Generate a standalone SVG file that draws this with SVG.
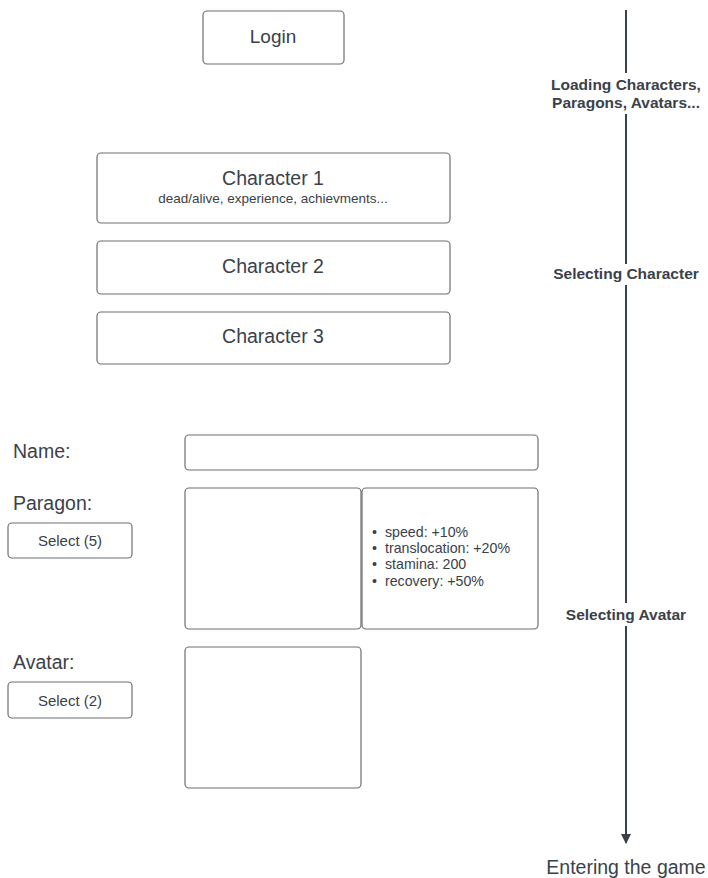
<svg xmlns="http://www.w3.org/2000/svg" width="708" height="878" viewBox="0 0 708 878">
<style>
.box{fill:#fff;stroke:#6b6e73;stroke-width:1.2}
.t{font-family:"Liberation Sans",Arial,sans-serif;fill:#3a414a}
.lb{font-family:"Liberation Sans",Arial,sans-serif;fill:#3a414a;font-weight:bold;font-size:15.5px;text-anchor:middle}
</style>
<defs>
<marker id="ah" markerWidth="10" markerHeight="14" refX="9" refY="5" orient="auto" markerUnits="userSpaceOnUse">
<path d="M0,0 L10,5 L0,10 z" fill="#3a414a"/>
</marker>
</defs>
<rect width="708" height="878" fill="#fff"/>
<g id="connectors">
<line x1="626" y1="10" x2="626" y2="73" stroke="#3a414a" stroke-width="2"/>
<line x1="626" y1="114" x2="626" y2="264" stroke="#3a414a" stroke-width="2"/>
<line x1="626" y1="285" x2="626" y2="603" stroke="#3a414a" stroke-width="2"/>
<line x1="626" y1="626" x2="626" y2="843" stroke="#3a414a" stroke-width="2" marker-end="url(#ah)"/>
</g>
<g id="login"><rect class="box" x="203" y="11" width="141" height="53" rx="4"/><text class="t" x="273" y="43" font-size="19" text-anchor="middle">Login</text></g>
<g id="character1"><rect class="box" x="97" y="153" width="353" height="70" rx="4"/><text class="t" x="273" y="185" font-size="19.5" text-anchor="middle">Character 1</text><text class="t" x="273" y="203" font-size="13.5" text-anchor="middle">dead/alive, experience, achievments...</text></g>
<g id="character2"><rect class="box" x="97" y="241" width="353" height="53" rx="4"/><text class="t" x="273" y="273" font-size="19.5" text-anchor="middle">Character 2</text></g>
<g id="character3"><rect class="box" x="97" y="312" width="353" height="52" rx="4"/><text class="t" x="273" y="343" font-size="19.5" text-anchor="middle">Character 3</text></g>
<g id="label-loading"><text class="lb" x="626" y="90">Loading Characters,</text><text class="lb" x="626" y="108">Paragons, Avatars...</text></g>
<g id="label-selchar"><text class="lb" x="626" y="279">Selecting Character</text></g>
<g id="label-selavatar"><text class="lb" x="626" y="620">Selecting Avatar</text></g>
<g id="label-enter"><text class="t" x="626" y="874" font-size="19.5" text-anchor="middle">Entering the game</text></g>
<g id="name-label"><text class="t" x="13" y="458" font-size="19.5">Name:</text></g>
<g id="name-field"><rect class="box" x="185" y="435" width="353" height="35" rx="4"/></g>
<g id="paragon-label"><text class="t" x="13" y="510" font-size="19.5">Paragon:</text></g>
<g id="select5"><rect class="box" x="8" y="523" width="124" height="35" rx="4"/><text class="t" x="70" y="546" font-size="15" text-anchor="middle">Select (5)</text></g>
<g id="paragon-image"><rect class="box" x="185" y="488" width="176" height="141" rx="4"/></g>
<g id="paragon-stats"><rect class="box" x="362" y="488" width="176" height="141" rx="4"/>
<text class="t" font-size="14.2"><tspan x="372" y="537">•</tspan><tspan x="385" y="537">speed: +10%</tspan><tspan x="372" y="553">•</tspan><tspan x="385" y="553">translocation: +20%</tspan><tspan x="372" y="569">•</tspan><tspan x="385" y="569">stamina: 200</tspan><tspan x="372" y="586">•</tspan><tspan x="385" y="586">recovery: +50%</tspan></text></g>
<g id="avatar-label"><text class="t" x="13" y="669" font-size="19.5">Avatar:</text></g>
<g id="select2"><rect class="box" x="8" y="682" width="124" height="36" rx="4"/><text class="t" x="70" y="706" font-size="15" text-anchor="middle">Select (2)</text></g>
<g id="avatar-image"><rect class="box" x="185" y="647" width="176" height="141" rx="4"/></g>
</svg>
